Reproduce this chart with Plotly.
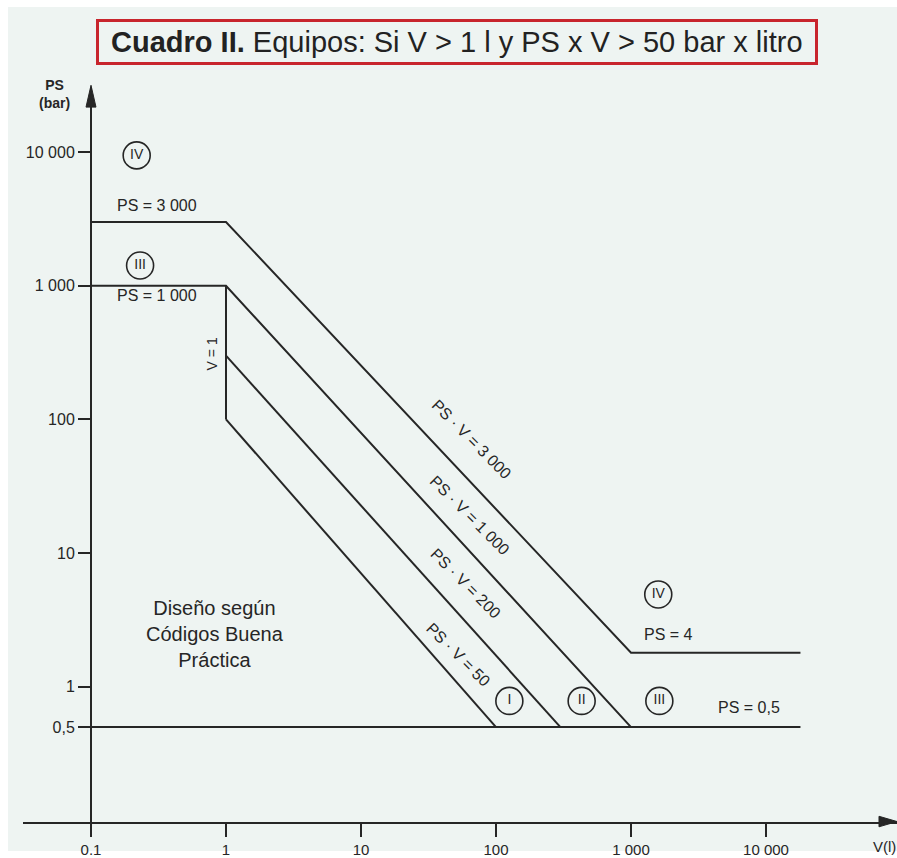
import numpy as np
import plotly.graph_objects as go

# ---- Data (V in litres, PS in bar) ----
# Upper boundary: PS = 3000 up to V = 1, then PS·V = 3000, then the PS = 4 plateau
line_3000_v = [0.1, 1, 1000, 18000]
line_3000_ps = [3000, 3000, 1.8, 1.8]
# PS = 1000 up to V = 1, then PS·V = 1000 down to PS = 0.5
line_1000_v = [0.1, 1, 1000]
line_1000_ps = [1000, 1000, 0.5]
# V = 1 boundary
line_v1_v = [1, 1]
line_v1_ps = [1000, 100]
# PS·V = 200
line_200_v = [1, 300]
line_200_ps = [300, 0.5]
# PS·V = 50
line_50_v = [1, 100]
line_50_ps = [100, 0.5]
# PS = 0.5 floor
line_05_v = [0.1, 18000]
line_05_ps = [0.5, 0.5]

x_tick_vals = [0.1, 1, 10, 100, 1000, 10000]
x_tick_text = ["0.1", "1", "10", "100", "1 000", "10 000"]
y_tick_vals = [0.5, 1, 10, 100, 1000, 10000]
y_tick_text = ["0,5", "1", "10", "100", "1 000", "10 000"]

# Category markers (roman numerals in circles)
cat_labels = ["IV", "III", "I", "II", "III", "IV"]
cat_v = [0.218, 0.231, 125.6, 431, 1622, 1592]
cat_ps = [9440, 1417, 0.785, 0.785, 0.785, 4.91]

W, H = 897, 858
BG = "#eef4f2"
INK = "#262626"
FONT = "Liberation Sans, Arial, Helvetica, sans-serif"

fig = go.Figure()

for vs, ps in [(line_3000_v, line_3000_ps), (line_1000_v, line_1000_ps),
               (line_v1_v, line_v1_ps), (line_200_v, line_200_ps),
               (line_50_v, line_50_ps), (line_05_v, line_05_ps)]:
    fig.add_trace(go.Scatter(x=vs, y=ps, mode="lines",
                             line=dict(color=INK, width=2),
                             hoverinfo="skip", showlegend=False))

fig.add_trace(go.Scatter(
    x=cat_v, y=cat_ps, mode="markers+text", text=cat_labels,
    textposition="middle center",
    textfont=dict(family=FONT, size=14, color=INK),
    marker=dict(symbol="circle-open", size=27, color=INK, line=dict(width=1.6)),
    hoverinfo="skip", showlegend=False))


def lg(v):
    return float(np.log10(v))


annotations = []


def label(text, v, ps, size=16, angle=0, **kw):
    annotations.append(dict(x=lg(v), y=lg(ps), xref="x", yref="y", text=text,
                            showarrow=False, textangle=angle,
                            font=dict(family=FONT, size=size, color=INK), **kw))


label("PS = 3 000", 0.31, 3970)
label("PS = 1 000", 0.31, 840)
label("V = 1", 0.783, 310, size=14, angle=-90)
label("PS · V = 3 000", 66, 70.6, angle=45)
label("PS · V = 1 000", 64, 19, angle=45)
label("PS · V = 200", 59.7, 5.93, angle=45)
label("PS · V = 50", 52.4, 1.74, angle=45)
label("PS = 4", 1910, 2.45)
label("PS = 0,5", 7520, 0.70)
label("Diseño según<br>Códigos Buena<br>Práctica", 0.829, 2.5, size=20)

# Title box
annotations.append(dict(
    x=456.5 / W, y=1 - 42.5 / H, xref="paper", yref="paper", showarrow=False,
    xanchor="center", yanchor="middle",
    text="&nbsp;<b>Cuadro II.</b> Equipos: Si V > 1 l y PS x V > 50 bar x litro&nbsp;",
    font=dict(family=FONT, size=29, color="#222222"),
    bordercolor="#c8252d", borderwidth=3, borderpad=4, bgcolor=BG))

# Axis titles
annotations.append(dict(x=54 / W, y=1 - 95 / H, xref="paper", yref="paper",
                        xanchor="center", yanchor="middle",
                        showarrow=False, text="<b>PS</b><br><b>(bar)</b>",
                        font=dict(family=FONT, size=14, color=INK)))
annotations.append(dict(x=871 / W, y=1 - 853 / H, xref="paper", yref="paper",
                        xanchor="left", yanchor="middle",
                        showarrow=False, text="V(l)",
                        font=dict(family=FONT, size=15, color=INK)))


def px(xp, yp):
    return f"{xp / W:.5f},{1 - yp / H:.5f}"


shapes = [
    # page background with thin white border at top/left
    dict(type="rect", xref="paper", yref="paper", x0=8 / W, x1=1, y0=0, y1=1 - 7 / H,
         fillcolor=BG, line=dict(width=0), layer="below"),
    # arrow heads
    dict(type="path", xref="paper", yref="paper",
         path=f"M{px(897, 828.3)} L{px(879, 823)} L{px(879, 833.6)} Z",
         fillcolor=INK, line=dict(color=INK, width=1)),
    dict(type="path", xref="paper", yref="paper",
         path=f"M{px(91, 86)} L{px(86, 108)} L{px(96, 108)} Z",
         fillcolor=INK, line=dict(color=INK, width=1)),
]

fig.update_layout(
    width=W, height=H, margin=dict(l=0, r=0, t=0, b=0),
    paper_bgcolor="white", plot_bgcolor="rgba(0,0,0,0)",
    showlegend=False, annotations=annotations, shapes=shapes,
    xaxis=dict(type="log", domain=[23 / W, 1], range=[-1.5037, 4.9704],
               showgrid=False, zeroline=False, showline=True,
               linecolor=INK, linewidth=2,
               ticks="outside", ticklen=13, tickwidth=1.5, tickcolor=INK,
               tickvals=x_tick_vals, ticktext=x_tick_text,
               tickfont=dict(family=FONT, size=15, color=INK)),
    yaxis=dict(type="log", domain=[(H - 828.3) / H, (H - 88) / H],
               range=[-1.0074, 4.4844], anchor="free", position=91 / W,
               showgrid=False, zeroline=False, showline=True,
               linecolor=INK, linewidth=2,
               ticks="outside", ticklen=12, tickwidth=1.5, tickcolor=INK,
               tickvals=y_tick_vals, ticktext=y_tick_text,
               tickfont=dict(family=FONT, size=16, color=INK)),
)

fig.write_html("out.html")
